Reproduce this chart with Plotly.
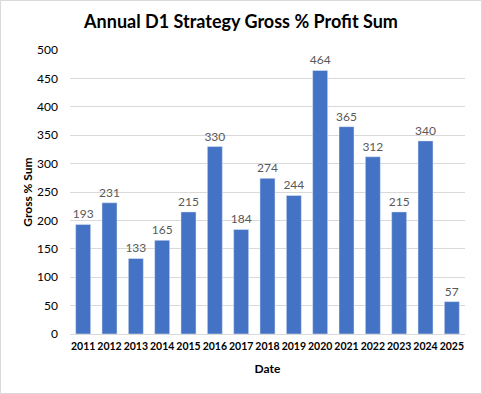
import plotly.graph_objects as go

years = ["2011","2012","2013","2014","2015","2016","2017","2018","2019","2020","2021","2022","2023","2024","2025"]
values = [193, 231, 133, 165, 215, 330, 184, 274, 244, 464, 365, 312, 215, 340, 57]
y_ticks = [0, 50, 100, 150, 200, 250, 300, 350, 400, 450, 500]

W, H = 482, 394
L, R, T, B = 70, 17, 50, 60
pw, ph = W - L - R, H - T - B
FONT = "Lato"

fig = go.Figure(go.Bar(
    x=years, y=values, marker_color="#4472C4", width=0.57,
    text=[str(v) for v in values], textposition="outside", constraintext="none",
    textfont=dict(size=12, color="#595959", family=FONT),
    cliponaxis=False,
))

fig.update_layout(
    width=W, height=H, margin=dict(l=L, r=R, t=T, b=B, autoexpand=False),
    paper_bgcolor="white", plot_bgcolor="white",
    title=dict(text="<b>Annual D1 Strategy Gross % Profit Sum</b>", x=0.5, xref="container",
               xanchor="center", y=1 - 22 / H, yanchor="middle",
               font=dict(size=18, color="#000000", family=FONT)),
    font=dict(family=FONT, color="#000000"),
    showlegend=False, bargap=0.43,
    xaxis=dict(title=dict(text="<b>Date</b>", font=dict(size=12), standoff=14),
               tickfont=dict(size=10.5), tickangle=0, automargin=False, ticklabelstandoff=2,
               tickprefix="<b>", ticksuffix="</b>",
               showline=True, linecolor="#d9d9d9", ticks=""),
    yaxis=dict(title=dict(text="<b>Gross % Sum</b>", font=dict(size=12), standoff=1),
               range=[0, 500], tickvals=y_ticks, tickprefix="<b>", ticksuffix="</b>",
               tickfont=dict(size=12), gridcolor="#d9d9d9", zeroline=False,
               showline=False, ticks="", automargin=False, ticklabelstandoff=11),
    shapes=[dict(type="rect", xref="paper", yref="paper",
                 x0=(0.5 - L) / pw, x1=(W - 0.5 - L) / pw,
                 y0=(H - B - (H - 0.5)) / ph, y1=(H - B - 0.5) / ph,
                 line=dict(color="#d9d9d9", width=1))],
)

fig.write_html("out.html", config={"displayModeBar": False},
               post_script="document.body.style.margin='0';")
